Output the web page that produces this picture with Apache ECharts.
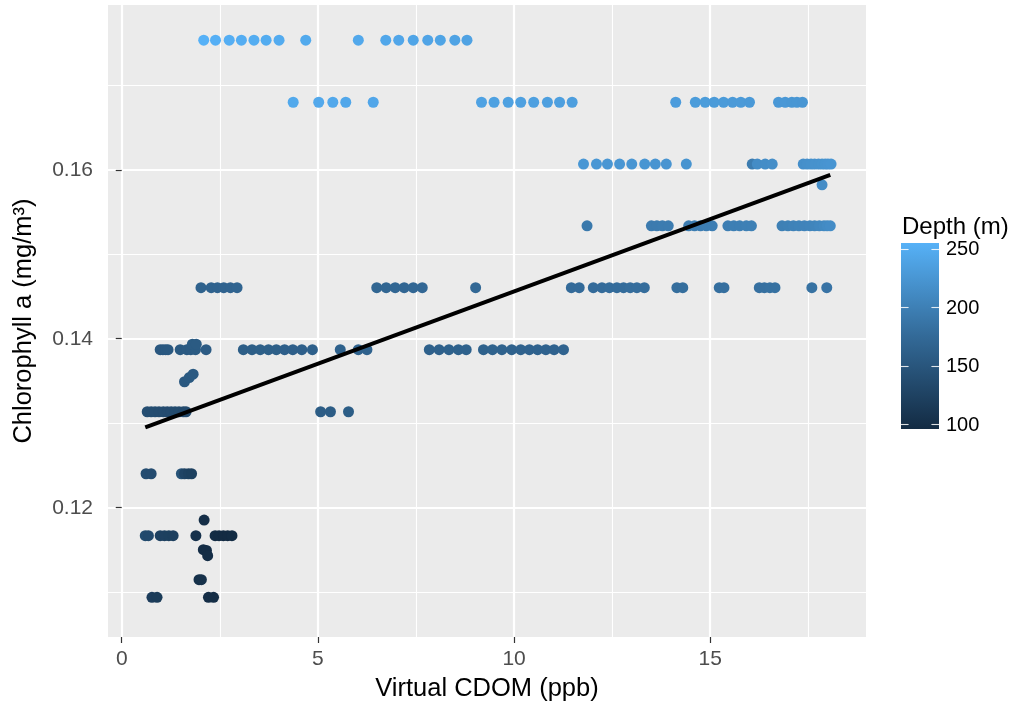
<!DOCTYPE html>
<html>
<head>
<meta charset="utf-8">
<script src="https://cdn.jsdelivr.net/npm/echarts@6/dist/echarts.min.js"></script>
<style>
  html, body { margin: 0; padding: 0; background: #ffffff; }
  #chart { width: 1017px; height: 704px; }
</style>
</head>
<body>
<div id="chart"></div>
<script>
// Chlorophyll a levels (mg/m^3) and the CDOM readings (ppb) / depths (m) found at each level
const chlaLevels = [0.17533, 0.16799, 0.16067, 0.15337, 0.14604, 0.13870, 0.13136, 0.12402, 0.11669, 0.10939];

const cdomByLevel = [
  [2.09, 2.39, 2.74, 3.05, 3.37, 3.68, 4.01, 4.69, 6.03, 6.73, 7.06, 7.43, 7.80, 8.12, 8.49, 8.80],
  [4.37, 5.02, 5.38, 5.71, 6.41, 9.17, 9.49, 9.85, 10.17, 10.50, 10.85, 11.16, 11.48, 14.12, 14.62, 14.87, 15.10, 15.34, 15.57, 15.78, 16.00, 16.74, 16.91, 17.08, 17.21, 17.35],
  [11.77, 12.10, 12.38, 12.69, 13.00, 13.33, 13.60, 13.88, 14.39, 16.07, 16.20, 16.40, 16.58, 17.37, 17.47, 17.57, 17.66, 17.76, 17.85, 17.93, 18.00, 18.08],
  [11.86, 13.50, 13.64, 13.78, 13.93, 14.45, 14.60, 14.75, 14.90, 15.05, 15.45, 15.60, 15.75, 15.92, 16.05, 16.83, 16.98, 17.12, 17.26, 17.40, 17.54, 17.66, 17.78, 17.90, 17.98, 18.06],
  [2.02, 2.28, 2.44, 2.60, 2.77, 2.94, 6.50, 6.74, 6.97, 7.20, 7.43, 7.66, 9.02, 11.46, 11.66, 12.02, 12.24, 12.43, 12.62, 12.79, 12.96, 13.13, 13.32, 14.15, 14.30, 15.23, 15.35, 16.25, 16.38, 16.52, 16.65, 17.59, 17.97],
  [0.98, 1.05, 1.12, 1.18, 1.49, 1.66, 1.76, 1.88, 2.15, 3.10, 3.32, 3.53, 3.74, 3.94, 4.15, 4.36, 4.59, 4.86, 5.57, 6.03, 6.25, 7.84, 8.09, 8.34, 8.58, 8.78, 9.22, 9.45, 9.69, 9.94, 10.17, 10.39, 10.60, 10.81, 11.02, 11.26],
  [0.65, 0.75, 0.85, 0.95, 1.06, 1.16, 1.26, 1.36, 1.46, 1.57, 1.64, 5.07, 5.32, 5.78],
  [0.62, 0.75, 1.52, 1.60, 1.70, 1.78],
  [0.60, 0.68, 0.98, 1.09, 1.20, 1.31, 1.89, 2.38, 2.48, 2.59, 2.70, 2.81],
  [0.77, 0.90, 2.21, 2.34]
];

const depthByLevel = [
  [255, 253, 252, 251, 250, 249, 248, 247, 245, 244, 243, 242, 241, 240, 239, 238],
  [246, 245, 245, 244, 243, 238, 237, 237, 236, 236, 235, 235, 234, 232, 231, 231, 230, 230, 229, 229, 228, 227, 227, 226, 226, 225],
  [226, 226, 225, 225, 224, 224, 223, 223, 222, 196, 214, 215, 216, 217, 218, 219, 220, 220, 221, 222, 223, 224],
  [192, 195, 195, 196, 196, 196, 197, 197, 198, 198, 198, 199, 199, 200, 200, 200, 201, 202, 203, 204, 205, 206, 208, 210, 212, 214],
  [165, 166, 166, 167, 167, 168, 170, 170, 171, 171, 172, 172, 173, 176, 176, 177, 177, 178, 178, 178, 179, 179, 179, 180, 180, 181, 181, 182, 182, 183, 183, 184, 186],
  [152, 152, 153, 153, 154, 155, 155, 156, 157, 160, 160, 161, 161, 161, 162, 162, 162, 163, 164, 165, 165, 163, 163, 164, 164, 164, 164, 165, 165, 165, 165, 166, 166, 166, 166, 167],
  [140, 139, 139, 138, 138, 137, 137, 136, 136, 135, 135, 158, 158, 159],
  [138, 137, 146, 128, 124, 122],
  [136, 134, 124, 123, 122, 121, 104, 98, 97, 96, 96, 97],
  [118, 117, 99, 98]
];

// Readings that fall between the main levels
const offCdom  = [1.80, 1.90, 1.60, 1.72, 1.82, 17.85, 2.10, 2.08, 2.16, 2.19, 1.97, 2.03];
const offChla  = [0.13935, 0.13935, 0.13491, 0.13540, 0.13580, 0.15822, 0.11854, 0.11503, 0.11495, 0.11432, 0.11148, 0.11148];
const offDepth = [156, 156, 153, 154, 155, 214, 100, 99, 99, 99, 102, 103];

// Least-squares fit, drawn between its end points
const trendCdom = [0.60, 18.06];
const trendChla = [0.1295, 0.1594];

// Axis ticks
const xTicks = [0, 5, 10, 15];
const xMinor = [2.5, 7.5, 12.5, 17.5];
const yTicks = [0.12, 0.14, 0.16];
const yMinor = [0.11, 0.13, 0.15, 0.17];
const depthTicks = [100, 150, 200, 250];

// ---------------------------------------------------------------------------
const FONT = '"Liberation Sans", Arial, Helvetica, sans-serif';
const gradientColors = ['#132B43', '#336A98', '#56B1F7'];

const points = [];
chlaLevels.forEach((lvl, i) => {
  cdomByLevel[i].forEach((x, j) => points.push([x, lvl, depthByLevel[i][j]]));
});
offCdom.forEach((x, k) => points.push([x, offChla[k], offDepth[k]]));

const allDepth = points.map(p => p[2]);
const depthMin = Math.min.apply(null, allDepth);
const depthMax = Math.max.apply(null, allDepth);

const trend = trendCdom.map((x, i) => [x, trendChla[i]]);

// colour bar geometry
const bar = { x: 901, y: 243, w: 38, h: 186 };
const barY = v => bar.y + bar.h - (v - depthMin) / (depthMax - depthMin) * bar.h;

const legendGraphics = [
  {
    type: 'text', left: 902, top: 215,
    style: { text: 'Depth (m)', font: '24px ' + FONT, fill: '#000000' }
  },
  {
    type: 'rect',
    shape: { x: bar.x, y: bar.y, width: bar.w, height: bar.h },
    style: {
      fill: new echarts.graphic.LinearGradient(0, 1, 0, 0, [
        { offset: 0, color: gradientColors[0] },
        { offset: 0.5, color: gradientColors[1] },
        { offset: 1, color: gradientColors[2] }
      ])
    }
  }
];
depthTicks.forEach(v => {
  const y = Math.round(barY(v)) + 0.5;
  legendGraphics.push(
    { type: 'line', shape: { x1: bar.x, y1: y, x2: bar.x + 7.6, y2: y }, style: { stroke: 'rgba(255,255,255,0.85)', lineWidth: 1.1 } },
    { type: 'line', shape: { x1: bar.x + bar.w - 7.6, y1: y, x2: bar.x + bar.w, y2: y }, style: { stroke: 'rgba(255,255,255,0.85)', lineWidth: 1.1 } },
    { type: 'text', x: 946, y: barY(v) + 1, style: { text: String(v), font: '20px ' + FONT, fill: '#000000', verticalAlign: 'middle', align: 'left' } }
  );
});

const chart = echarts.init(document.getElementById('chart'), null, { renderer: 'canvas' });

chart.setOption({
  animation: false,
  backgroundColor: '#ffffff',
  textStyle: { fontFamily: FONT },
  grid: {
    left: 108, right: 151, top: 5, bottom: 67,
    show: true, backgroundColor: '#EBEBEB', borderWidth: 0,
    containLabel: false, outerBoundsMode: 'none'
  },
  xAxis: [
    {
      type: 'value', min: -0.35, max: 18.97,
      name: 'Virtual CDOM (ppb)', nameLocation: 'middle', nameGap: 39,
      nameTextStyle: { fontSize: 25.5, color: '#000000', fontFamily: FONT },
      axisLine: { show: false },
      axisTick: { show: true, length: 6, customValues: xTicks, lineStyle: { color: '#333333', width: 1.2 } },
      axisLabel: { customValues: xTicks, fontSize: 21, color: '#4D4D4D', margin: 12, fontFamily: FONT },
      splitLine: { show: true, lineStyle: { color: '#ffffff', width: 2.2 } },
      z: 2
    },
    {
      type: 'value', min: -0.35, max: 18.97, position: 'top',
      axisLine: { show: false },
      axisTick: { show: false, customValues: xMinor },
      axisLabel: { show: false },
      splitLine: { show: true, lineStyle: { color: '#ffffff', width: 1.1 } },
      z: 1
    }
  ],
  yAxis: [
    {
      type: 'value', min: 0.1047, max: 0.1795,
      name: 'Chlorophyll a (mg/m³)', nameLocation: 'middle', nameGap: 71,
      nameTextStyle: { fontSize: 25.5, color: '#000000', fontFamily: FONT },
      axisLine: { show: false },
      axisTick: { show: true, length: 6, customValues: yTicks, lineStyle: { color: '#333333', width: 1.2 } },
      axisLabel: { customValues: yTicks, fontSize: 21, color: '#4D4D4D', margin: 15, fontFamily: FONT,
                   formatter: v => v.toFixed(2) },
      splitLine: { show: true, lineStyle: { color: '#ffffff', width: 2.2 } },
      z: 2
    },
    {
      type: 'value', min: 0.1047, max: 0.1795, position: 'right',
      axisLine: { show: false },
      axisTick: { show: false, customValues: yMinor },
      axisLabel: { show: false },
      splitLine: { show: true, lineStyle: { color: '#ffffff', width: 1.1 } },
      z: 1
    }
  ],
  visualMap: {
    type: 'continuous', show: false, seriesIndex: 0, dimension: 2,
    min: depthMin, max: depthMax,
    inRange: { color: gradientColors }
  },
  series: [
    {
      type: 'scatter', xAxisIndex: 0, yAxisIndex: 0,
      symbol: 'circle', symbolSize: 11,
      itemStyle: { opacity: 1 },
      data: points, z: 3, silent: true
    },
    {
      type: 'line', xAxisIndex: 0, yAxisIndex: 0,
      data: trend, symbol: 'none',
      lineStyle: { color: '#000000', width: 4 },
      z: 4, silent: true
    }
  ],
  graphic: legendGraphics
});
</script>
</body>
</html>
